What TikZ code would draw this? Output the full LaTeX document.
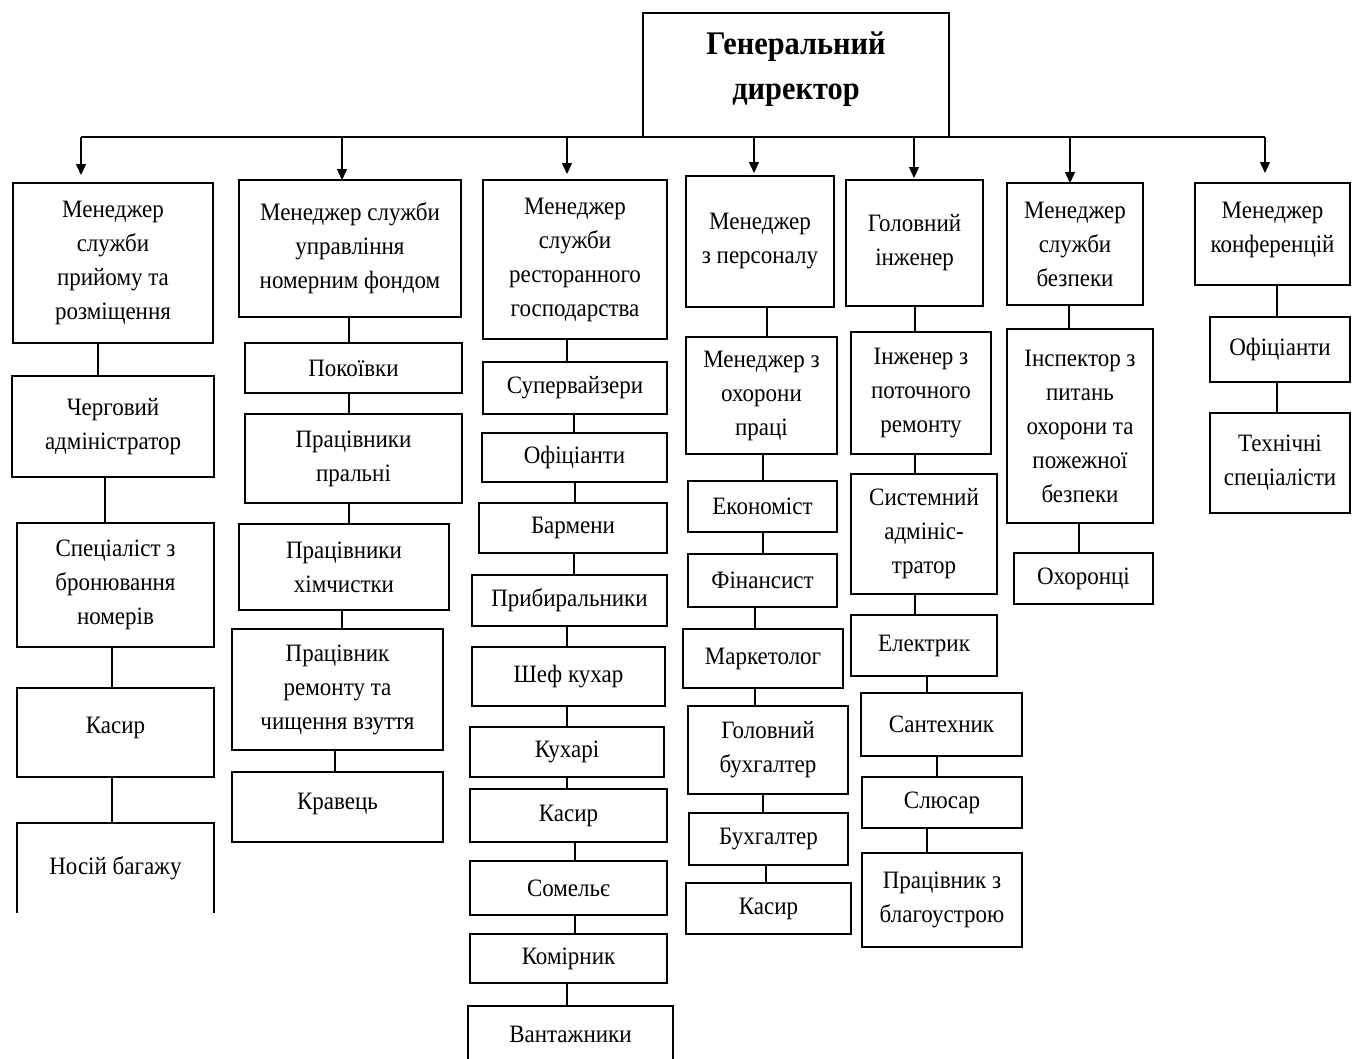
\documentclass[tikz,border=0pt]{standalone}
\usepackage{fontspec}
\setmainfont{Liberation Serif}[FakeStretch=0.92]
\usetikzlibrary{positioning}
\usetikzlibrary{arrows.meta}

\begin{document}
\begin{tikzpicture}[x=1pt, y=-1pt]

\tikzset{
    box/.style={draw, line width=2.4pt, inner sep=0pt, outer sep=0pt, align=center,
        font=\fontsize{25}{34}\selectfont},
    openbox/.style={box, draw=none},
    boxline/.style={line width=2.4pt},
    boxsize/.style 2 args={minimum width=#1, minimum height=#2},
    chief/.style={box, font=\fontsize{33}{45}\selectfont\bfseries, text depth=18pt},
    myarrow/.style={-{Triangle[length=11pt,width=10pt]}, line width=1.4pt},
    myline/.style={line width=1.4pt}
}

\useasboundingbox (0,0) rectangle (1352,1058);

%%%%%%%%%%%%%%%%%%%%%%%%%%%%%%%%%%%%%%%%%%%%%%%%%%%%%%%%%
%                       Begin Picture                   %
%%%%%%%%%%%%%%%%%%%%%%%%%%%%%%%%%%%%%%%%%%%%%%%%%%%%%%%%%

% Block director
\node[chief, boxsize={306}{124}] (gd) at (796,75) {Генеральний\\директор};

% Managers
\node[box, boxsize={200}{160}] (m1) at (113,263) {Менеджер\\служби\\прийому та\\розміщення};
\node[box, boxsize={222}{137}] (m2) at (350,248.5) {Менеджер служби\\управління\\номерним фондом};
\node[box, boxsize={184}{159}] (m3) at (575,259.5) {Менеджер\\служби\\ресторанного\\господарства};
\node[box, boxsize={148}{131}] (m4) at (760,241.5) {Менеджер\\з персоналу};
\node[box, boxsize={137}{126}] (m5) at (914.5,243) {Головний\\інженер};
\node[box, boxsize={136}{122}] (m6) at (1075,244) {Менеджер\\служби\\безпеки};
\node[box, boxsize={155}{102}, text depth=14pt] (m7) at (1272.5,234) {Менеджер\\конференцій};

% Bus from the director
\draw[myline] ([xshift=-32pt]m1.north |- gd.south) -- ([xshift=-7.5pt]m7.north |- gd.south);
\draw[myarrow, shorten >=8pt] ([xshift=-32pt]m1.north |- gd.south) -- ([xshift=-32pt]m1.north);
\draw[myarrow] ([xshift=-8pt]m2.north |- gd.south) -- ([xshift=-8pt]m2.north);
\draw[myarrow, shorten >=6pt] ([xshift=-8pt]m3.north |- gd.south) -- ([xshift=-8pt]m3.north);
\draw[myarrow, shorten >=3pt] ([xshift=-6pt]m4.north |- gd.south) -- ([xshift=-6pt]m4.north);
\draw[myarrow, shorten >=2pt] ([xshift=-0.5pt]m5.north |- gd.south) -- ([xshift=-0.5pt]m5.north);
\draw[myarrow] ([xshift=-5pt]m6.north |- gd.south) -- ([xshift=-5pt]m6.north);
\draw[myarrow, shorten >=10pt] ([xshift=-7.5pt]m7.north |- gd.south) -- ([xshift=-7.5pt]m7.north);


%%% Column 1 %%%

\node[box, boxsize={202}{101}, below=33pt of m1] (c11) {Черговий\\адміністратор};
\draw[myline] ([xshift=-15pt]m1.south) -- ([xshift=-15pt]m1.south |- c11.north);

\node[box, boxsize={197}{124}, below=46pt of c11, xshift=2.5pt] (c12) {Спеціаліст з\\бронювання\\номерів};
\draw[myline] ([xshift=-8pt]c11.south) -- ([xshift=-8pt]c11.south |- c12.north);

\node[box, boxsize={197}{89}, below=41pt of c12, text depth=14pt] (c13) {Касир};
\draw[myline] ([xshift=-3.5pt]c12.south) -- ([xshift=-3.5pt]c12.south |- c13.north);

% open at the bottom
\node[openbox, boxsize={197}{90}, below=46pt of c13] (c14) {Носій багажу};
\draw[boxline] (c14.south west) -- (c14.north west) -- (c14.north east) -- (c14.south east);
\draw[myline] ([xshift=-3.5pt]c13.south) -- ([xshift=-3.5pt]c13.south |- c14.north);


%%% Column 2 %%%

\node[box, boxsize={217}{50}, below=26pt of m2, xshift=3.5pt] (c21) {Покоївки};
\draw[myline] ([xshift=-1pt]m2.south) -- ([xshift=-1pt]m2.south |- c21.north);

\node[box, boxsize={217}{89}, below=21pt of c21] (c22) {Працівники\\пральні};
\draw[myline] ([xshift=-4.5pt]c21.south) -- ([xshift=-4.5pt]c21.south |- c22.north);

\node[box, boxsize={210}{86}, below=21pt of c22, xshift=-9.5pt] (c23) {Працівники\\хімчистки};
\draw[myline] ([xshift=-4.5pt]c22.south) -- ([xshift=-4.5pt]c22.south |- c23.north);

\node[box, boxsize={211}{121}, below=19pt of c23, xshift=-6.5pt] (c24) {Працівник\\ремонту та\\чищення взуття};
\draw[myline] ([xshift=-2pt]c23.south) -- ([xshift=-2pt]c23.south |- c24.north);

\node[box, boxsize={211}{70}, below=22pt of c24, text depth=12pt] (c25) {Кравець};
\draw[myline] ([xshift=-2.5pt]c24.south) -- ([xshift=-2.5pt]c24.south |- c25.north);


%%% Column 3 %%%

\node[box, boxsize={184}{52}, below=23pt of m3] (c31) {Супервайзери};
\draw[myline] ([xshift=-8pt]m3.south) -- ([xshift=-8pt]m3.south |- c31.north);

\node[box, boxsize={185}{49}, below=19pt of c31, xshift=-0.5pt] (c32) {Офіціанти};
\draw[myline] ([xshift=-1pt]c31.south) -- ([xshift=-1pt]c31.south |- c32.north);

\node[box, boxsize={188}{50}, below=21pt of c32, xshift=-1.5pt] (c33) {Бармени};
\draw[myline] ([xshift=0.5pt]c32.south) -- ([xshift=0.5pt]c32.south |- c33.north);

\node[box, boxsize={195}{51}, below=22pt of c33, xshift=-3.5pt] (c34) {Прибиральники};
\draw[myline] ([xshift=1pt]c33.south) -- ([xshift=1pt]c33.south |- c34.north);

\node[box, boxsize={193}{59}, below=21pt of c34, xshift=-1pt] (c35) {Шеф кухар};
\draw[myline] ([xshift=-2.5pt]c34.south) -- ([xshift=-2.5pt]c34.south |- c35.north);

\node[box, boxsize={194}{50}, below=21pt of c35, xshift=-1.5pt] (c36) {Кухарі};
\draw[myline] ([xshift=-1.5pt]c35.south) -- ([xshift=-1.5pt]c35.south |- c36.north);

\node[box, boxsize={197}{53}, below=12pt of c36, xshift=1.5pt] (c37) {Касир};
\draw[myline] (c36.south) -- (c36.south |- c37.north);

\node[box, boxsize={197}{54}, below=19pt of c37] (c38) {Сомельє};
\draw[myline] ([xshift=6.5pt]c37.south) -- ([xshift=6.5pt]c37.south |- c38.north);

\node[box, boxsize={197}{49}, below=19pt of c38] (c39) {Комірник};
\draw[myline] ([xshift=6.5pt]c38.south) -- ([xshift=6.5pt]c38.south |- c39.north);

% runs off the page
\node[openbox, boxsize={205}{56}, below=23pt of c39, xshift=2pt] (c310) {Вантажники};
\draw[boxline] (c310.south west) -- (c310.north west) -- (c310.north east) -- (c310.south east);
\draw[myline] ([xshift=-1.5pt]c39.south) -- ([xshift=-1.5pt]c39.south |- c310.north);


%%% Column 4 %%%

\node[box, boxsize={151}{117}, below=30pt of m4, xshift=1.5pt] (c41) {Менеджер з\\охорони\\праці};
\draw[myline] ([xshift=7pt]m4.south) -- ([xshift=7pt]m4.south |- c41.north);

\node[box, boxsize={149}{51}, below=27pt of c41, xshift=1pt] (c42) {Економіст};
\draw[myline] ([xshift=1.5pt]c41.south) -- ([xshift=1.5pt]c41.south |- c42.north);

\node[box, boxsize={149}{53}, below=22pt of c42] (c43) {Фінансист};
\draw[myline] ([xshift=0.5pt]c42.south) -- ([xshift=0.5pt]c42.south |- c43.north);

\node[box, boxsize={160}{59}, below=22pt of c43, xshift=0.5pt] (c44) {Маркетолог};
\draw[myline] ([xshift=-7.5pt]c43.south) -- ([xshift=-7.5pt]c43.south |- c44.north);

\node[box, boxsize={160}{88}, below=18pt of c44, xshift=5pt] (c45) {Головний\\бухгалтер};
\draw[myline] ([xshift=-8pt]c44.south) -- ([xshift=-8pt]c44.south |- c45.north);

\node[box, boxsize={159}{52}, below=19pt of c45, xshift=0.5pt] (c46) {Бухгалтер};
\draw[myline] ([xshift=-5pt]c45.south) -- ([xshift=-5pt]c45.south |- c46.north);

\node[box, boxsize={165}{51}, below=18pt of c46] (c47) {Касир};
\draw[myline] ([xshift=-2.5pt]c46.south) -- ([xshift=-2.5pt]c46.south |- c47.north);


%%% Column 5 %%%

\node[box, boxsize={140}{122}, below=26pt of m5, xshift=6.5pt] (c51) {Інженер з\\поточного\\ремонту};
\draw[myline] ([xshift=0.5pt]m5.south) -- ([xshift=0.5pt]m5.south |- c51.north);

\node[box, boxsize={146}{120}, below=20pt of c51, xshift=3pt] (c52) {Системний\\адмініс-\\тратор};
\draw[myline] ([xshift=-6pt]c51.south) -- ([xshift=-6pt]c51.south |- c52.north);

\node[box, boxsize={146}{61}, below=21pt of c52] (c53) {Електрик};
\draw[myline] ([xshift=-9pt]c52.south) -- ([xshift=-9pt]c52.south |- c53.north);

\node[box, boxsize={161}{63}, below=17pt of c53, xshift=17.5pt] (c54) {Сантехник};
\draw[myline] ([xshift=3pt]c53.south) -- ([xshift=3pt]c53.south |- c54.north);

\node[box, boxsize={160}{51}, below=21pt of c54, xshift=0.5pt] (c55) {Слюсар};
\draw[myline] ([xshift=-4.5pt]c54.south) -- ([xshift=-4.5pt]c54.south |- c55.north);

\node[box, boxsize={160}{94}, below=25pt of c55] (c56) {Працівник з\\благоустрою};
\draw[myline] ([xshift=-15pt]c55.south) -- ([xshift=-15pt]c55.south |- c56.north);


%%% Column 6 %%%

\node[box, boxsize={146}{194}, below=24pt of m6, xshift=5pt] (c61) {Інспектор з\\питань\\охорони та\\пожежної\\безпеки};
\draw[myline] ([xshift=-6pt]m6.south) -- ([xshift=-6pt]m6.south |- c61.north);

\node[box, boxsize={139}{51}, below=30pt of c61, xshift=3.5pt] (c62) {Охоронці};
\draw[myline] ([xshift=-1pt]c61.south) -- ([xshift=-1pt]c61.south |- c62.north);


%%% Column 7 %%%

\node[box, boxsize={140}{65}, below=32pt of m7, xshift=7.5pt] (c71) {Офіціанти};
\draw[myline] ([xshift=4.5pt]m7.south) -- ([xshift=4.5pt]m7.south |- c71.north);

\node[box, boxsize={140}{100}, below=31pt of c71] (c72) {Технічні\\спеціалісти};
\draw[myline] ([xshift=-3pt]c71.south) -- ([xshift=-3pt]c71.south |- c72.north);

\end{tikzpicture}
\end{document}
